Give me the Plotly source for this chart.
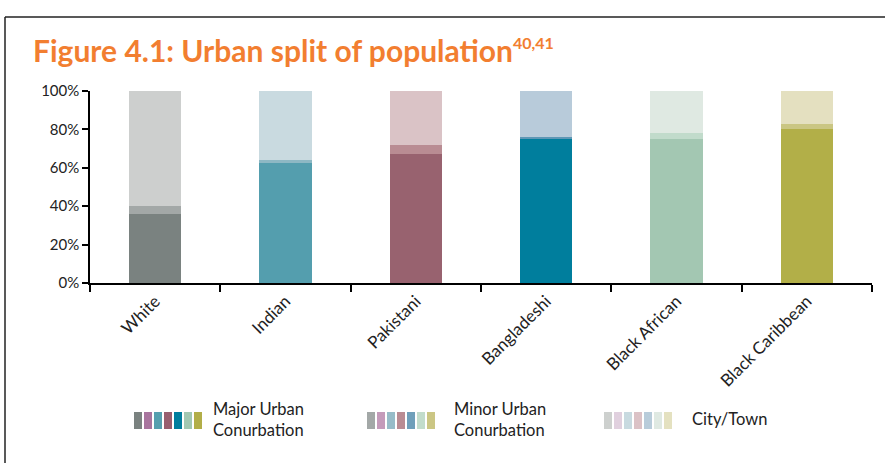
import plotly.graph_objects as go

categories = ["White", "Indian", "Pakistani", "Bangladeshi", "Black African", "Black Caribbean"]
major_urban = [36, 63, 67, 75, 75, 80]
minor_urban = [4, 1, 5, 1, 3, 3]
city_town = [60, 36, 28, 24, 22, 17]

major_colors = ["#7A8280", "#549EAE", "#98626F", "#007E9D", "#A3C7B2", "#B2AF48"]
minor_colors = ["#A3A8A7", "#8DB8C4", "#B98C93", "#5E97B5", "#C1DBCB", "#CAC683"]
city_colors = ["#CDCFCE", "#C9DAE0", "#DAC3C6", "#B8CBDA", "#DFE9E2", "#E4E0C0"]

legend_labels = ["Major Urban<br>Conurbation", "Minor Urban<br>Conurbation", "City/Town"]
legend_swatches = [
    ["#7A8280", "#A8759E", "#55A0AF", "#985F6F", "#007E9E", "#A2C8B2", "#B2AE48"],
    ["#A3A8A7", "#C49BBA", "#97BCC8", "#B98C93", "#6F9FBA", "#C2DCCB", "#CBC684"],
    ["#CDD0CE", "#E0D0DE", "#C8DAE0", "#DBC2C6", "#B8CCDA", "#DFE9E2", "#E4E1C0"],
]
yticks = [0, 20, 40, 60, 80, 100]
ytick_labels = ["0%", "20%", "40%", "60%", "80%", "100%"]

FONT = "Lato"
W, H = 885, 463
L, R, T, B = 90, 13, 91, 180
PW, PH = W - L - R, H - T - B

fig = go.Figure()
for vals, cols, name in [(major_urban, major_colors, "Major Urban Conurbation"),
                         (minor_urban, minor_colors, "Minor Urban Conurbation"),
                         (city_town, city_colors, "City/Town")]:
    fig.add_trace(go.Bar(x=categories, y=vals, name=name, marker=dict(color=cols, line=dict(width=0)),
                         showlegend=False))

def px_to_paper_x(px):
    return (px - L) / PW

def px_to_paper_y(py):
    return (H - B - py) / PH

shapes = []
annotations = []
# legend
group_x = [134, 367, 604]
text_x = [211, 452, 690]
sw_top, sw_bot = 412, 429
for gx, tx, cols, lab in zip(group_x, text_x, legend_swatches, legend_labels):
    for i, c in enumerate(cols):
        x0 = gx + i * 10
        shapes.append(dict(type="rect", xref="paper", yref="paper",
                           x0=px_to_paper_x(x0), x1=px_to_paper_x(x0 + 8),
                           y0=px_to_paper_y(sw_bot), y1=px_to_paper_y(sw_top),
                           fillcolor=c, line=dict(width=0)))
    annotations.append(dict(text=lab, xref="paper", yref="paper", x=px_to_paper_x(tx),
                            y=px_to_paper_y(419), xanchor="left", yanchor="middle", align="left",
                            showarrow=False, font=dict(family=FONT, size=16.5, color="#222222")))

# frame border
shapes.append(dict(type="line", xref="paper", yref="paper", x0=px_to_paper_x(5), x1=px_to_paper_x(890),
                   y0=px_to_paper_y(17), y1=px_to_paper_y(17), line=dict(color="#222222", width=1.5)))
shapes.append(dict(type="line", xref="paper", yref="paper", x0=px_to_paper_x(5), x1=px_to_paper_x(5),
                   y0=px_to_paper_y(17), y1=px_to_paper_y(470), line=dict(color="#222222", width=1.5)))

fig.update_layout(
    width=W, height=H,
    margin=dict(l=L, r=R, t=T, b=B),
    paper_bgcolor="white", plot_bgcolor="white",
    barmode="stack", bargap=0.6,
    title=dict(text="<b>Figure 4.1: Urban split of population<sup><span style='font-size:16px'>40,41</span></sup></b>",
               xref="container", yref="container", x=33 / W, y=1 - 62 / H,
               xanchor="left", yanchor="bottom",
               font=dict(family=FONT, size=30, color="#F27E30")),
    shapes=shapes, annotations=annotations,
    xaxis=dict(type="category", tickson="boundaries", ticks="outside", ticklen=7, tickwidth=1.5,
               tickcolor="black", showline=True, linecolor="black", linewidth=1.5,
               tickangle=-45, tickfont=dict(family=FONT, size=17, color="#222222"),
               showgrid=False, range=[-0.5, 5.5], mirror=False),
    yaxis=dict(range=[0, 100], tickvals=yticks, ticktext=ytick_labels, ticks="outside", ticklen=6,
               tickwidth=1.5, tickcolor="black", showline=True, linecolor="black", linewidth=1.5,
               showgrid=False, zeroline=False, tickfont=dict(family=FONT, size=15, color="#222222")),
)

fig.write_html("out.html", config={"displayModeBar": False},
               post_script="document.body.style.margin='0';document.body.style.padding='0';")
